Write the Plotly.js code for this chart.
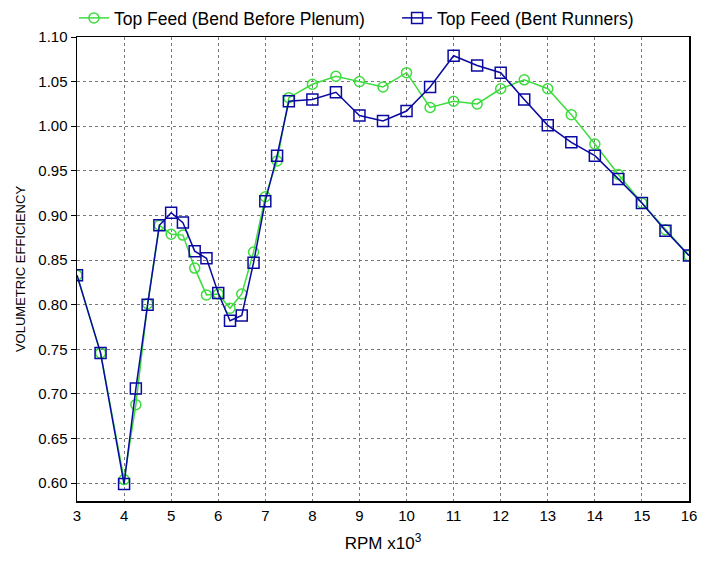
<!DOCTYPE html>
<html>
<head>
<meta charset="utf-8">
<script src="https://cdn.plot.ly/plotly-3.0.1.min.js"></script>
<style>
  html, body { margin: 0; padding: 0; background: #fff; }
  #chart { width: 711px; height: 561px; }
</style>
</head>
<body>
<div id="chart"></div>
<script>
// rpm in thousands, shared by both runs
var rpm = [3, 3.5, 4, 4.25, 4.5, 4.75, 5, 5.25, 5.5, 5.75, 6, 6.25, 6.5, 6.75, 7, 7.25, 7.5,
           8, 8.5, 9, 9.5, 10, 10.5, 11, 11.5, 12, 12.5, 13, 13.5, 14, 14.5, 15, 15.5, 16];

var bendBeforePlenum = [0.833, 0.746, 0.604, 0.688, 0.801, 0.889, 0.879, 0.878, 0.841, 0.811, 0.812,
                        0.796, 0.812, 0.859, 0.921, 0.961, 1.032, 1.047, 1.056, 1.050, 1.044, 1.060,
                        1.021, 1.028, 1.025, 1.042, 1.052, 1.042, 1.013, 0.980, 0.946, 0.914, 0.884, 0.855];

var bentRunners = [0.833, 0.746, 0.599, 0.706, 0.800, 0.889, 0.903, 0.892, 0.860, 0.852, 0.813,
                   0.782, 0.788, 0.847, 0.916, 0.967, 1.028, 1.030, 1.038, 1.012, 1.006, 1.017,
                   1.044, 1.079, 1.068, 1.060, 1.030, 1.001, 0.982, 0.967, 0.941, 0.914, 0.883, 0.855];

var xTicks = [3, 4, 5, 6, 7, 8, 9, 10, 11, 12, 13, 14, 15, 16];
var yTicks = [0.60, 0.65, 0.70, 0.75, 0.80, 0.85, 0.90, 0.95, 1.00, 1.05, 1.10];

var font = 'Liberation Sans, Arial, sans-serif';

var trace1 = {
    x: rpm,
    y: bendBeforePlenum,
    name: 'Top Feed (Bend Before Plenum)',
    type: 'scatter',
    mode: 'lines+markers',
    legend: 'legend',
    line: {color: '#3ddc3d', width: 1.5},
    marker: {symbol: 'circle-open', size: 10, color: '#3ddc3d', line: {width: 1.5}}
};

var trace2 = {
    x: rpm,
    y: bentRunners,
    name: 'Top Feed (Bent Runners)',
    type: 'scatter',
    mode: 'lines+markers',
    legend: 'legend2',
    line: {color: '#0a0aa0', width: 1.5},
    marker: {symbol: 'square-open', size: 11, color: '#0a0aa0', line: {width: 1.5}}
};

// one legend box per trace so each entry sits where the reference has it
function legendBox(xPos) {
    return {
        orientation: 'h',
        x: xPos, xanchor: 'left',
        yref: 'container',
        y: 1.0, yanchor: 'top',
        font: {family: font, size: 17.5, color: '#000'},
        itemwidth: 30,
        bgcolor: 'rgba(0,0,0,0)'
    };
}

var layout = {
    width: 711,
    height: 561,
    margin: {l: 77, r: 22, t: 37, b: 60},
    paper_bgcolor: '#fff',
    plot_bgcolor: '#fff',
    font: {family: font, size: 14, color: '#000'},
    showlegend: true,
    legend: legendBox(-0.005),
    legend2: legendBox(0.523),
    xaxis: {
        range: [3, 16],
        tickvals: xTicks,
        ticktext: xTicks.map(String),
        ticks: '',
        showline: true, linecolor: '#000', linewidth: 1.5, mirror: true,
        showgrid: true, gridcolor: '#777', griddash: 'dot', gridwidth: 1,
        zeroline: false,
        tickfont: {family: font, size: 15},
        title: {text: 'RPM x10<sup>3</sup>', font: {family: font, size: 17}, standoff: 14}
    },
    yaxis: {
        range: [0.58, 1.10],
        tickvals: yTicks,
        ticktext: yTicks.map(function (v) { return v.toFixed(2); }),
        ticks: 'outside', ticklen: 5, tickcolor: '#000',
        showline: true, linecolor: '#000', linewidth: 1.5, mirror: true,
        showgrid: true, gridcolor: '#777', griddash: 'dot', gridwidth: 1,
        zeroline: false,
        tickfont: {family: font, size: 15},
        title: {text: 'VOLUMETRIC EFFICIENCY', font: {family: font, size: 13}, standoff: 9}
    }
};

Plotly.newPlot('chart', [trace1, trace2], layout, {displayModeBar: false, staticPlot: true});
</script>
</body>
</html>
